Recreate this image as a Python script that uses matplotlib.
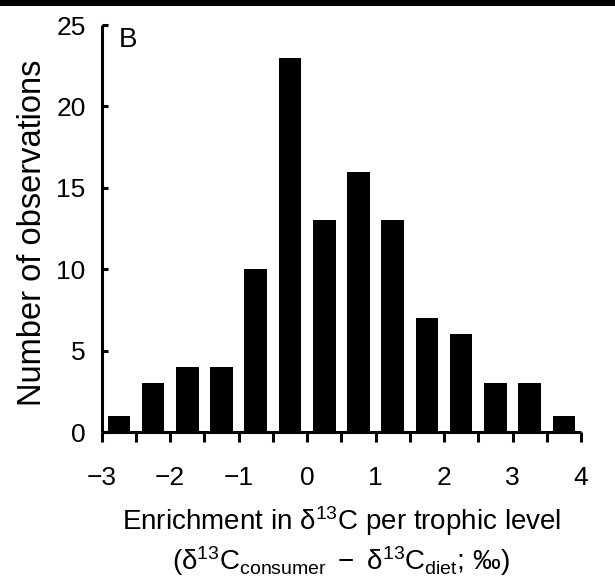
import matplotlib
matplotlib.use("Agg")
import matplotlib.pyplot as plt
from matplotlib.patches import Rectangle

plt.rcParams['font.family'] = ['Liberation Sans', 'DejaVu Sans']
plt.rcParams['mathtext.fontset'] = 'custom'
plt.rcParams['mathtext.rm'] = 'Liberation Sans'
plt.rcParams['mathtext.it'] = 'Liberation Sans:italic'
plt.rcParams['mathtext.bf'] = 'Liberation Sans:bold'

# Data
bin_centers = [-2.75, -2.25, -1.75, -1.25, -0.75, -0.25, 0.25, 0.75,
               1.25, 1.75, 2.25, 2.75, 3.25, 3.75]
counts = [1, 3, 4, 4, 10, 23, 13, 16, 13, 7, 6, 3, 3, 1]
x_ticks = [-3, -2, -1, 0, 1, 2, 3, 4]
x_tick_labels = ['\u22123', '\u22122', '\u22121', '0', '1', '2', '3', '4']
x_minor_ticks = [-2.5, -1.5, -0.5, 0.5, 1.5, 2.5, 3.5]
y_ticks = [0, 5, 10, 15, 20, 25]

fig = plt.figure(figsize=(6.15, 5.83), dpi=100)
ax = fig.add_axes([0.1654, 0.259, 0.7793, 0.698])

ax.bar(bin_centers, counts, width=0.33, color='black', edgecolor='none')

ax.set_xlim(-3, 4)
ax.set_ylim(0, 25)
ax.set_xticks(x_ticks)
ax.set_xticklabels(x_tick_labels)
ax.set_xticks(x_minor_ticks, minor=True)
ax.set_yticks(y_ticks)

for s in ['top', 'right']:
    ax.spines[s].set_visible(False)
for s in ['left', 'bottom']:
    ax.spines[s].set_linewidth(2.2)
    ax.spines[s].set_capstyle('butt')

ax.tick_params(axis='x', which='both', direction='out', length=7, width=2.2,
               labelsize=19, pad=17.5)
ax.tick_params(axis='y', which='major', direction='in', length=4.5, width=2.2,
               labelsize=19, pad=11.5)
ax.tick_params(axis='x', which='minor', labelbottom=False)

ax.set_ylabel('Number of observations', fontsize=23.5)
ax.yaxis.set_label_coords(-0.112, 0.49)
ax.set_xlabel('Enrichment in $\\mathregular{\\delta^{13}}$C per trophic level\n'
              '($\\mathregular{\\delta^{13}C_{consumer}\\ -\\ \\delta^{13}C_{diet}}$; \u2030)',
              fontsize=20, labelpad=10, linespacing=1.25)

ax.text(0.035, 0.995, 'B', transform=ax.transAxes, fontsize=20,
        ha='left', va='top')

# Black strip at top edge
fig.patches.append(Rectangle((0, 1 - 6 / 583), 1, 6 / 583, transform=fig.transFigure,
                             facecolor='black', edgecolor='none', zorder=10))

fig.savefig('out.png', dpi=100)
